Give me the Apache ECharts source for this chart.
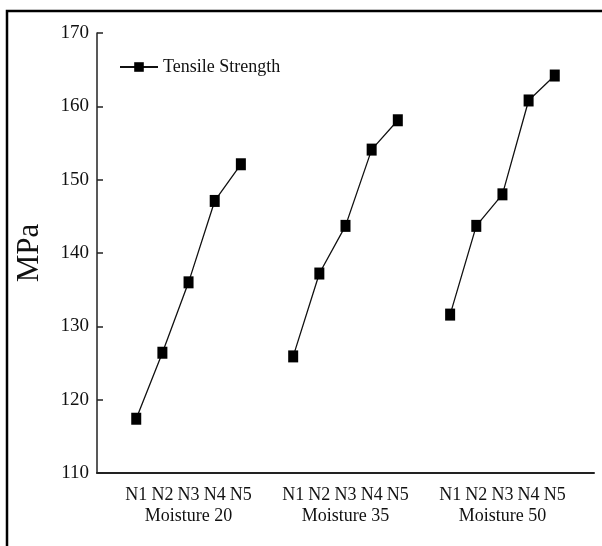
<!DOCTYPE html>
<html>
<head>
<meta charset="utf-8">
<script src="https://cdn.jsdelivr.net/npm/echarts@6/dist/echarts.min.js"></script>
<style>html,body{margin:0;padding:0;background:#fff;}#c{width:602px;height:546px;}</style>
</head>
<body>
<div id="c"></div>
<script>
// Category slots (blank slots separate the moisture groups)
var categories = ['', 'N1', 'N2', 'N3', 'N4', 'N5', '', 'N1', 'N2', 'N3', 'N4', 'N5', '', 'N1', 'N2', 'N3', 'N4', 'N5', ''];
var groupLabels = ['Moisture 20', 'Moisture 35', 'Moisture 50'];
var groupCenterIndex = [3, 9, 15];
var tensileStrength = [null, 117.4, 126.4, 136.0, 147.1, 152.1, null, 125.9, 137.2, 143.7, 154.1, 158.1, null, 131.6, 143.7, 148.0, 160.8, 164.2, null];
var yTicks = { min: 110, max: 170, interval: 10 };

var serif = 'Liberation Serif';
var chart = echarts.init(document.getElementById('c'), null, { renderer: 'canvas' });
chart.setOption({
  animation: false,
  backgroundColor: '#fff',
  graphic: [{
    type: 'rect',
    shape: { x: 7, y: 11, width: 800, height: 800 },
    style: { fill: 'none', stroke: '#000', lineWidth: 2.5 },
    silent: true
  }],
  grid: { left: 97, right: 8, top: 33, bottom: 73 },
  legend: {
    left: 114, top: 53,
    itemWidth: 38, itemHeight: 12,
    textStyle: { fontFamily: serif, fontSize: 18, color: '#111' },
    data: ['Tensile Strength']
  },
  xAxis: {
    type: 'category',
    data: categories,
    boundaryGap: true,
    axisLine: { lineStyle: { color: '#222', width: 2 } },
    axisTick: { show: false },
    axisLabel: {
      interval: 0,
      margin: 12,
      fontFamily: serif,
      fontSize: 18,
      lineHeight: 21,
      color: '#111',
      formatter: function (v, i) {
        var g = groupCenterIndex.indexOf(i);
        return g >= 0 ? v + '\n' + groupLabels[g] : v;
      }
    },
    splitLine: { show: false }
  },
  yAxis: {
    type: 'value',
    min: yTicks.min, max: yTicks.max, interval: yTicks.interval,
    name: 'MPa',
    nameLocation: 'middle',
    nameGap: 52,
    nameTextStyle: { fontFamily: serif, fontSize: 31, color: '#111' },
    axisLine: { show: true, lineStyle: { color: '#222', width: 1.5 } },
    axisTick: { show: true, inside: true, length: 6, lineStyle: { color: '#222', width: 1.5 } },
    axisLabel: { margin: 8, fontFamily: serif, fontSize: 19, color: '#111' },
    splitLine: { show: false }
  },
  series: [{
    name: 'Tensile Strength',
    type: 'line',
    data: tensileStrength,
    connectNulls: false,
    symbol: 'rect',
    symbolSize: [10, 12],
    lineStyle: { color: '#111', width: 1.3 },
    itemStyle: { color: '#000' }
  }]
});
</script>
</body>
</html>
